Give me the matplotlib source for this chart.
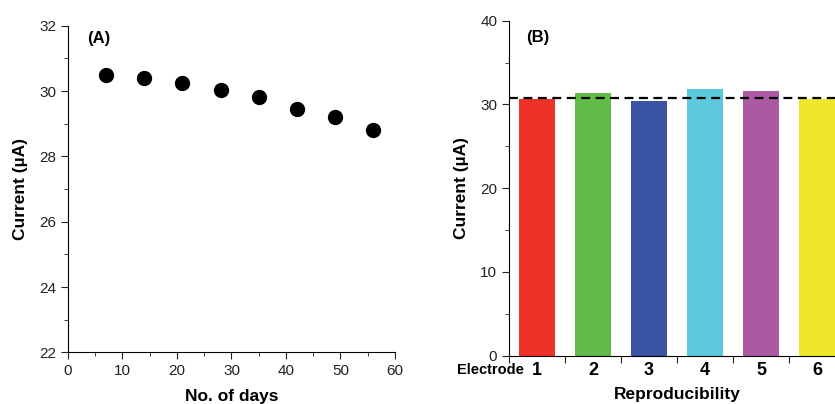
import matplotlib
matplotlib.use("Agg")
import matplotlib.pyplot as plt
from matplotlib.ticker import MultipleLocator

plt.rcParams['font.family'] = ['Liberation Sans', 'DejaVu Sans']

days = [7, 14, 21, 28, 35, 42, 49, 56]
stability_current = [30.48, 30.41, 30.25, 30.03, 29.81, 29.45, 29.21, 28.82]

electrodes = [1, 2, 3, 4, 5, 6]
repro_current = [30.7, 31.33, 30.45, 31.9, 31.57, 30.7]
mean_current = 30.73
bar_colors = ['#EE3228', '#62BB47', '#3A53A4', '#5BC8DC', '#AB59A3', '#EFE72B']

fig = plt.figure(figsize=(8.35, 4.04), dpi=100)

# Panel A
axA = fig.add_axes([0.0814, 0.128, 0.3916, 0.808])
axA.plot(days, stability_current, 'o', color='black', markersize=10)
axA.set_xlim(0, 60)
axA.set_ylim(22, 32)
axA.xaxis.set_major_locator(MultipleLocator(10))
axA.xaxis.set_minor_locator(MultipleLocator(5))
axA.yaxis.set_major_locator(MultipleLocator(2))
axA.yaxis.set_minor_locator(MultipleLocator(1))
axA.spines['top'].set_visible(False)
axA.spines['right'].set_visible(False)
axA.tick_params(which='major', direction='out', length=5, labelsize=11, colors='#222222')
axA.tick_params(which='minor', direction='out', length=3, colors='#222222')
axA.set_xlabel('No. of days', fontsize=12.5, fontweight='bold', labelpad=8)
axA.set_ylabel('Current (µA)', fontsize=12.5, fontweight='bold', labelpad=8)
axA.text(0.06, 0.96, '(A)', transform=axA.transAxes, fontsize=12, fontweight='bold', va='center')

# Panel B
axB = fig.add_axes([0.6096, 0.1196, 0.4024, 0.8292])
axB.bar(electrodes, repro_current, width=0.63, color=bar_colors)
axB.axhline(mean_current, color='black', linestyle=(0, (4, 2.5)), linewidth=1.6)
axB.set_xlim(0.5, 6.5)
axB.set_ylim(0, 40)
axB.set_xticks([0.5, 1.5, 2.5, 3.5, 4.5, 5.5, 6.5])
axB.set_xticklabels([])
axB.yaxis.set_major_locator(MultipleLocator(10))
axB.yaxis.set_minor_locator(MultipleLocator(5))
axB.spines['top'].set_visible(False)
axB.spines['right'].set_visible(False)
axB.tick_params(which='major', direction='out', length=5, labelsize=11, colors='#222222')
axB.tick_params(which='minor', direction='out', length=3, colors='#222222')
for e in electrodes:
    axB.text(e, -0.018, str(e), transform=axB.get_xaxis_transform(), ha='center', va='top',
             fontsize=13, fontweight='bold')
axB.text(0.77, -0.022, 'Electrode', transform=axB.get_xaxis_transform(), ha='right', va='top',
         fontsize=10.5, fontweight='bold')
axB.set_xlabel('Reproducibility', fontsize=12.5, fontweight='bold', labelpad=14)
axB.set_ylabel('Current (µA)', fontsize=12.5, fontweight='bold', labelpad=8)
axB.text(0.05, 0.95, '(B)', transform=axB.transAxes, fontsize=12, fontweight='bold', va='center')

fig.savefig('out.png', dpi=100)
